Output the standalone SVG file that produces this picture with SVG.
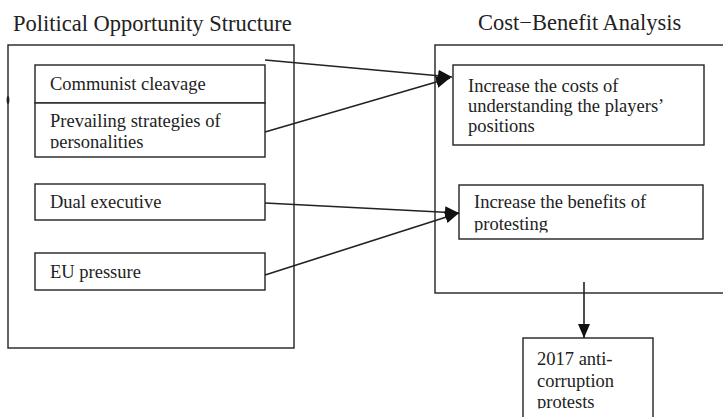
<svg xmlns="http://www.w3.org/2000/svg" width="723" height="417" viewBox="0 0 723 417">
<defs>
<style>
.box{fill:none;stroke:#222;stroke-width:1.4}
.wbox{fill:#fff;stroke:#222;stroke-width:1.4}
.t{font-family:"Liberation Serif","Times New Roman",serif;font-size:18.5px;fill:#222}
.title{font-family:"Liberation Serif","Times New Roman",serif;font-size:22.5px;fill:#222}
.conn{fill:none;stroke:#222;stroke-width:1.6}
</style>
<marker id="ah" markerUnits="userSpaceOnUse" markerWidth="16" markerHeight="14" refX="14" refY="6" orient="auto">
<path d="M0,0 L14,6 L0,12 Z" fill="#111"/>
</marker>
<clipPath id="c1"><rect x="35" y="104" width="230" height="44.5"/></clipPath>
<clipPath id="c2"><rect x="459" y="185" width="244" height="47.5"/></clipPath>
<clipPath id="c3"><rect x="523" y="338" width="130" height="70.5"/></clipPath>
</defs>

<text class="title" x="13" y="31">Political Opportunity Structure</text>
<text class="title" x="478" y="30">Cost−Benefit Analysis</text>

<g id="pos">
<rect class="box" x="8" y="45" width="286" height="303"/>
<ellipse cx="8" cy="100" rx="1.4" ry="4" fill="#222"/>
</g>
<g id="cba">
<rect class="box" x="435" y="45" width="295" height="248"/>
</g>

<g id="communist">
<rect class="wbox" x="35" y="65" width="230" height="38"/>
<text class="t" x="50" y="90">Communist cleavage</text>
</g>
<g id="personalities">
<rect class="wbox" x="35" y="103" width="230" height="54"/>
<g clip-path="url(#c1)">
<text class="t" x="50" y="127">Prevailing strategies of</text>
<text class="t" x="50" y="148">personalities</text>
</g>
</g>
<g id="dual">
<rect class="wbox" x="35" y="184" width="230" height="36"/>
<text class="t" x="50" y="208">Dual executive</text>
</g>
<g id="eu">
<rect class="wbox" x="35" y="253" width="230" height="37"/>
<text class="t" x="50" y="278">EU pressure</text>
</g>

<g id="costs">
<rect class="wbox" x="453" y="65" width="251" height="80"/>
<text class="t" x="468" y="92">Increase the costs of</text>
<text class="t" x="468" y="112">understanding the players’</text>
<text class="t" x="468" y="132">positions</text>
</g>
<g id="benefits">
<rect class="wbox" x="459" y="185" width="244" height="54"/>
<g clip-path="url(#c2)">
<text class="t" x="474" y="208">Increase the benefits of</text>
<text class="t" x="474" y="230">protesting</text>
</g>
</g>
<g id="protests">
<rect class="wbox" x="523" y="338" width="130" height="90"/>
<g clip-path="url(#c3)">
<text class="t" x="537" y="365">2017 anti-</text>
<text class="t" x="537" y="387">corruption</text>
<text class="t" x="537" y="408">protests</text>
</g>
</g>

<g id="connectors">
<line class="conn" x1="265" y1="60" x2="452" y2="77" marker-end="url(#ah)"/>
<line class="conn" x1="265" y1="132" x2="450" y2="78" marker-end="url(#ah)"/>
<line class="conn" x1="265" y1="203" x2="459" y2="213" marker-end="url(#ah)"/>
<line class="conn" x1="265" y1="275" x2="459" y2="213" marker-end="url(#ah)"/>
<line class="conn" x1="584" y1="282" x2="584" y2="338" marker-end="url(#ah)"/>
</g>
</svg>
